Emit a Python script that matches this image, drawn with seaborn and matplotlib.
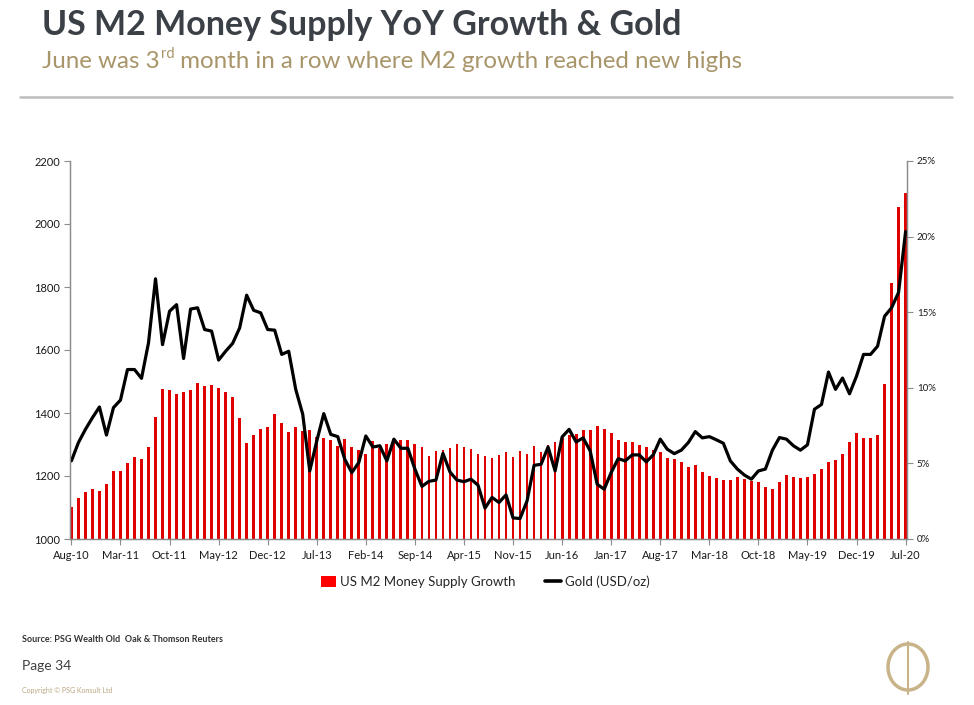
import numpy as np
import pandas as pd
import matplotlib
matplotlib.use("Agg")
import matplotlib.pyplot as plt
import seaborn as sns
from matplotlib.lines import Line2D
from matplotlib.patches import Patch, Ellipse

# ==========================================================
# DATA  (monthly, Aug-10 .. Jul-20)
# ==========================================================

months = pd.date_range("2010-08-01", periods=120, freq="MS").strftime("%b-%y").tolist()

gold = [
    1248, 1306, 1348, 1385, 1419, 1330, 1417, 1441, 1538, 1538,
    1510, 1623, 1826, 1617, 1723, 1744, 1573, 1730, 1734, 1665,
    1660, 1568, 1596, 1621, 1670, 1774, 1726, 1718, 1665, 1663,
    1586, 1596, 1475, 1396, 1216, 1311, 1398, 1332, 1325, 1253,
    1211, 1243, 1327, 1292, 1296, 1248, 1317, 1288, 1288, 1222,
    1167, 1183, 1187, 1272, 1213, 1187, 1182, 1190, 1171, 1098,
    1132, 1116, 1140, 1067, 1065, 1121, 1234, 1237, 1292, 1216,
    1324, 1348, 1308, 1321, 1280, 1174, 1158, 1211, 1255, 1248,
    1267, 1267, 1245, 1267, 1317, 1285, 1271, 1282, 1306, 1341,
    1321, 1325, 1315, 1304, 1248, 1222, 1203, 1190, 1216, 1222,
    1282, 1322, 1317, 1296, 1282, 1299, 1412, 1427, 1530, 1475,
    1511, 1461, 1517, 1586, 1586, 1612, 1707, 1734, 1783, 1976,
]

m2_growth = [
    2.13, 2.7, 3.1, 3.3, 3.2, 3.65, 4.5, 4.5, 5.0, 5.4,
    5.3, 6.1, 8.1, 9.9, 9.85, 9.6, 9.7, 9.85, 10.3, 10.15,
    10.2, 10.0, 9.7, 9.4, 8.0, 6.35, 6.9, 7.25, 7.4, 8.3,
    7.65, 7.1, 7.4, 7.15, 7.2, 6.77, 6.70, 6.55, 6.17, 6.61,
    6.08, 5.9, 5.62, 6.48, 6.04, 6.28, 6.55, 6.55, 6.55, 6.28,
    6.08, 5.49, 5.82, 5.89, 6.04, 6.28, 6.11, 5.95, 5.62, 5.49,
    5.36, 5.56, 5.75, 5.42, 5.82, 5.62, 6.15, 5.75, 6.2, 6.41,
    6.7, 6.88, 6.97, 7.21, 7.21, 7.47, 7.27, 7.01, 6.55, 6.41,
    6.41, 6.22, 6.08, 5.9, 5.76, 5.39, 5.28, 5.12, 4.73, 4.88,
    4.44, 4.18, 4.05, 3.89, 3.89, 4.07, 3.96, 3.83, 3.78, 3.45,
    3.30, 3.78, 4.22, 4.13, 4.02, 4.07, 4.29, 4.66, 5.06, 5.21,
    5.61, 6.44, 7.04, 6.66, 6.71, 6.88, 10.23, 16.93, 21.95, 22.87,
]

gold_ticks = [1000, 1200, 1400, 1600, 1800, 2000, 2200]
pct_ticks = [0, 5, 10, 15, 20, 25]

title = "US M2 Money Supply YoY Growth & Gold"
sub_a = "June was 3"
sub_sup = "rd"
sub_b = " month in a row where M2 growth reached new highs"

BAR_RED = "#E00000"
GOLD_TXT = "#A8956A"
AXIS_GREY = "#8C8C8C"

# ==========================================================
# FIGURE
# ==========================================================

sns.set_theme(style="white")
plt.rcParams["font.family"] = ["Lato", "DejaVu Sans"]

W, H = 974, 705
fig = plt.figure(figsize=(W / 100, H / 100), dpi=100)
fig.patch.set_facecolor("white")

ax = fig.add_axes([70 / W, 1 - 539 / H, (907 - 70) / W, (539 - 161) / H])

# bars -> percentage axis (drawn on the right)
sns.barplot(x=months, y=m2_growth, color=BAR_RED, saturation=1,
            width=0.4, linewidth=0, ax=ax)
for bar in ax.patches:
    bar.set_antialiased(False)

# gold line -> price axis (drawn on the left), above the bars
ax2 = ax.twinx()
sns.lineplot(x=np.arange(len(gold)), y=gold, color="black",
             linewidth=2.3, ax=ax2)

ax.set_xlim(-0.2, len(months) - 0.8)
ax.set_ylim(0, 25)
ax2.set_ylim(1000, 2200)

ax.set_xticks(range(0, len(months), 7))
ax.set_xticklabels(months[::7])
ax.set_yticks(pct_ticks)
ax.set_yticklabels([f"{v}%" for v in pct_ticks])
ax2.set_yticks(gold_ticks)
ax2.set_yticklabels([str(v) for v in gold_ticks])

ax.set_xlabel("")
ax.set_ylabel("")
ax2.set_xlabel("")
ax2.set_ylabel("")

ax.tick_params(axis="x", bottom=True, length=4, width=0.8, color=AXIS_GREY,
               labelsize=8, labelcolor="#1a1a1a", pad=4)
ax.tick_params(axis="y", left=False, right=True, labelleft=False,
               labelright=True, length=4, width=0.8, color=AXIS_GREY,
               labelsize=7, labelcolor="#1a1a1a", pad=3)
ax2.tick_params(axis="y", left=True, right=False, labelleft=True,
                labelright=False, length=4, width=0.8, color=AXIS_GREY,
                labelsize=8, labelcolor="#1a1a1a", pad=3)

for a in (ax, ax2):
    a.spines["top"].set_visible(False)
    for s in ("left", "right", "bottom"):
        a.spines[s].set_color(AXIS_GREY)
        a.spines[s].set_linewidth(0.9)
    a.grid(False)

# ==========================================================
# LEGEND
# ==========================================================

handles = [
    Patch(facecolor="#FF0000", edgecolor="none", label="US M2 Money Supply Growth"),
    Line2D([], [], color="black", linewidth=2.6, label="Gold (USD/oz)"),
]
fig.legend(handles=handles, loc="center", ncol=2, frameon=False,
           bbox_to_anchor=(485 / W, 1 - 582 / H), fontsize=9.5,
           handlelength=1.2, handleheight=0.9, handletextpad=0.3,
           columnspacing=2.2)

# ==========================================================
# HEADER
# ==========================================================

fig.text(42 / W, 1 - 35 / H, title, fontsize=24.5, fontweight="bold",
         color="#3B4046", va="baseline", ha="left")

renderer = fig.canvas.get_renderer()
y_sub = 1 - 68 / H
t1 = fig.text(42 / W, y_sub, sub_a, fontsize=17.4, color=GOLD_TXT,
              va="baseline", ha="left")
x1 = t1.get_window_extent(renderer).x1 / W
t2 = fig.text(x1 + 1 / W, y_sub + 10 / H, sub_sup, fontsize=10.5,
              color=GOLD_TXT, va="baseline", ha="left")
x2 = t2.get_window_extent(renderer).x1 / W
fig.text(x2, y_sub, sub_b, fontsize=17.4, color=GOLD_TXT,
         va="baseline", ha="left")

fig.add_artist(Line2D([20 / W, 952 / W], [1 - 97 / H, 1 - 97 / H],
                      transform=fig.transFigure, color="#BDBDBD", linewidth=1.8))

# ==========================================================
# FOOTER
# ==========================================================

fig.text(22 / W, 1 - 640 / H, "Source: PSG Wealth Old  Oak & Thomson Reuters",
         fontsize=6.5, fontweight="bold", color="#333333", va="center")
fig.text(22 / W, 1 - 666 / H, "Page 34", fontsize=10, color="#404040",
         va="center")
fig.text(22 / W, 1 - 690 / H, "Copyright \u00a9 PSG Konsult Ltd", fontsize=5,
         color="#B9A882", va="center")

fig.add_artist(Ellipse((908 / W, 1 - 667 / H), 40 / W, 46 / H,
                       transform=fig.transFigure, facecolor="none",
                       edgecolor="#C8B488", linewidth=2.5))
fig.add_artist(Line2D([908 / W, 908 / W], [1 - 642 / H, 1 - 694 / H],
                      transform=fig.transFigure, color="#C8B488", linewidth=1.5))

fig.savefig("out.png", dpi=100)
